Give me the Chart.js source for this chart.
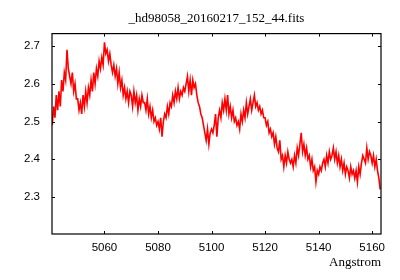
<!DOCTYPE html>
<html>
<head>
<meta charset="utf-8">
<script src="https://cdn.jsdelivr.net/npm/chart.js@4/dist/chart.umd.min.js"></script>
<style>
  html, body { margin: 0; padding: 0; background: #ffffff; }
  #wrap { width: 400px; height: 280px; }
</style>
</head>
<body>
<div id="wrap"><canvas id="c" width="400" height="280"></canvas></div>
<script>
const TITLE = "_hd98058_20160217_152_44.fits";
const X_LABEL = "Angstrom";
const WAVE_START = 5040.5;
const WAVE_STEP = 0.5;
const X_MIN = 5040.4, X_MAX = 5163.3;
const Y_MIN = 2.202, Y_MAX = 2.733;
const xTicks = [5060, 5080, 5100, 5120, 5140, 5160];
const yTicks = [2.3, 2.4, 2.5, 2.6, 2.7];

const flux = [
  2.49, 2.54, 2.51, 2.57, 2.53, 2.58, 2.54, 2.61, 2.58,
  2.63, 2.61, 2.69, 2.64, 2.62, 2.60, 2.63, 2.58, 2.60, 2.56,
  2.56, 2.53, 2.55, 2.52, 2.57, 2.54, 2.58, 2.55, 2.59, 2.57,
  2.61, 2.58, 2.63, 2.60, 2.64, 2.62, 2.66, 2.64, 2.67, 2.65,
  2.71, 2.68, 2.69, 2.66, 2.68, 2.65, 2.63, 2.65, 2.62, 2.64,
  2.60, 2.63, 2.59, 2.61, 2.57, 2.59, 2.56, 2.58, 2.55, 2.58,
  2.57, 2.54, 2.58, 2.55, 2.57, 2.53, 2.56, 2.54, 2.57, 2.55,
  2.55, 2.53, 2.56, 2.52, 2.54, 2.51, 2.53, 2.50, 2.51, 2.49,
  2.50, 2.48, 2.51, 2.46, 2.50, 2.52, 2.51, 2.54, 2.52, 2.55,
  2.54, 2.57, 2.55, 2.58, 2.56, 2.59, 2.56, 2.58, 2.57, 2.59,
  2.58, 2.60, 2.62, 2.58, 2.61, 2.57, 2.61, 2.59, 2.60, 2.57,
  2.55, 2.54, 2.52, 2.51, 2.49, 2.47, 2.45, 2.48, 2.44, 2.47,
  2.48, 2.47, 2.49, 2.52, 2.46, 2.51, 2.53, 2.51, 2.55, 2.53,
  2.56, 2.53, 2.57, 2.52, 2.54, 2.51, 2.53, 2.50, 2.51, 2.49,
  2.50, 2.48, 2.52, 2.50, 2.53, 2.51, 2.55, 2.52, 2.54, 2.56,
  2.53, 2.55, 2.57, 2.54, 2.55, 2.53, 2.54, 2.52, 2.53, 2.51,
  2.51, 2.49, 2.50, 2.47, 2.48, 2.46, 2.47, 2.44, 2.46, 2.43,
  2.42, 2.45, 2.40, 2.41, 2.38, 2.41, 2.39, 2.42, 2.40, 2.39,
  2.40, 2.38, 2.41, 2.39, 2.43, 2.41, 2.44, 2.47, 2.42, 2.44,
  2.41, 2.43, 2.40, 2.41, 2.38, 2.40, 2.37, 2.38, 2.34, 2.37,
  2.36, 2.38, 2.37, 2.39, 2.40, 2.38, 2.41, 2.39, 2.42, 2.40,
  2.41, 2.43, 2.40, 2.42, 2.39, 2.41, 2.38, 2.40, 2.37, 2.39,
  2.36, 2.38, 2.37, 2.35, 2.38, 2.36, 2.37, 2.35, 2.37, 2.34,
  2.38, 2.36, 2.39, 2.41, 2.40, 2.39, 2.43, 2.40, 2.42, 2.41,
  2.39, 2.41, 2.38, 2.40, 2.37, 2.35, 2.32
];

const points = flux.map((v, i) => ({ x: WAVE_START + i * WAVE_STEP, y: v }));

const frameTicks = {
  id: 'frameTicks',
  afterDraw(chart) {
    const { ctx, chartArea: a, scales } = chart;
    ctx.save();
    ctx.strokeStyle = '#000';
    ctx.lineWidth = 1.2;
    ctx.strokeRect(a.left, a.top, a.right - a.left, a.bottom - a.top);
    ctx.lineWidth = 1;
    const L = 3;
    ctx.beginPath();
    xTicks.forEach(t => {
      const px = Math.round(scales.x.getPixelForValue(t)) + 0.5;
      ctx.moveTo(px, a.bottom); ctx.lineTo(px, a.bottom - L);
      ctx.moveTo(px, a.top); ctx.lineTo(px, a.top + L);
    });
    yTicks.forEach(t => {
      const py = Math.round(scales.y.getPixelForValue(t)) + 0.5;
      ctx.moveTo(a.left, py); ctx.lineTo(a.left + L, py);
      ctx.moveTo(a.right, py); ctx.lineTo(a.right - L, py);
    });
    ctx.stroke();
    ctx.restore();
  }
};

new Chart(document.getElementById('c'), {
  type: 'line',
  data: {
    datasets: [{
      data: points,
      borderColor: '#ff0000',
      borderWidth: 1.6,
      pointRadius: 0,
      tension: 0,
      fill: false
    }]
  },
  options: {
    responsive: false,
    animation: false,
    devicePixelRatio: 1,
    layout: { padding: { left: 0, right: 19, top: 0, bottom: 0 } },
    plugins: {
      legend: { display: false },
      tooltip: { enabled: false },
      title: {
        display: true,
        text: TITLE,
        fullSize: false,
        color: '#000',
        font: { family: 'Liberation Serif', size: 13, weight: 'normal' },
        padding: { top: 11, bottom: 7 }
      }
    },
    scales: {
      x: {
        type: 'linear',
        min: X_MIN, max: X_MAX,
        grid: { display: false, drawTicks: false },
        border: { display: false },
        afterBuildTicks(scale) { scale.ticks = xTicks.map(v => ({ value: v })); },
        afterFit(scale) { scale.height = 46; },
        ticks: {
          color: '#000',
          padding: 7,
          maxRotation: 0,
          autoSkip: false,
          font: { family: 'Liberation Sans', size: 11.5 },
          callback: v => String(v)
        },
        title: {
          display: true,
          text: X_LABEL,
          align: 'end',
          color: '#000',
          font: { family: 'Liberation Serif', size: 13 },
          padding: { top: 0, bottom: 10 }
        }
      },
      y: {
        type: 'linear',
        min: Y_MIN, max: Y_MAX,
        grid: { display: false, drawTicks: false },
        border: { display: false },
        afterBuildTicks(scale) { scale.ticks = yTicks.map(v => ({ value: v })); },
        afterFit(scale) { scale.width = 52; },
        ticks: {
          color: '#000',
          padding: 12,
          autoSkip: false,
          font: { family: 'Liberation Sans', size: 11.5 },
          callback: v => v.toFixed(1)
        }
      }
    }
  },
  plugins: [frameTicks]
});
</script>
</body>
</html>
